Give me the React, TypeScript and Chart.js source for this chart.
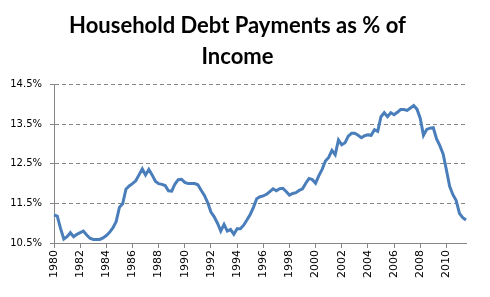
import { useEffect, useRef } from 'react';
import { Chart, registerables } from 'chart.js';

Chart.register(...registerables);

// Quarterly household debt service ratio (% of disposable income), 1980 Q1 – 2011 Q3
const startYear = 1980;
const values1980s = [
  11.21, 11.18, 10.87, 10.6, 10.66, 10.76, 10.66, 10.72,
  10.76, 10.8, 10.7, 10.62, 10.59, 10.59, 10.59, 10.63,
  10.69, 10.77, 10.88, 11.04, 11.4, 11.49, 11.86, 11.94,
  12.0, 12.07, 12.22, 12.37, 12.22, 12.36, 12.22, 12.06,
  12.0, 11.98, 11.95, 11.82, 11.81, 11.99, 12.1, 12.11,
];
const values1990s = [
  12.03, 12.0, 12.0, 12.0, 11.97, 11.83, 11.7, 11.52,
  11.28, 11.16, 11.0, 10.8, 10.97, 10.8, 10.84, 10.72,
  10.86, 10.86, 10.95, 11.08, 11.22, 11.4, 11.62, 11.67,
  11.69, 11.73, 11.8, 11.87, 11.82, 11.87, 11.88, 11.8,
  11.71, 11.75, 11.77, 11.83, 11.87, 12.01, 12.13, 12.1,
];
const values2000s = [
  12.01, 12.2, 12.36, 12.57, 12.66, 12.84, 12.73, 13.1,
  12.98, 13.03, 13.2, 13.27, 13.27, 13.22, 13.16, 13.21,
  13.23, 13.22, 13.36, 13.32, 13.69, 13.79, 13.69, 13.79,
  13.74, 13.8, 13.87, 13.87, 13.85, 13.91, 13.97, 13.88,
  13.65, 13.22, 13.37, 13.4, 13.41, 13.13, 12.96, 12.75,
];
const values2010s = [12.35, 11.93, 11.72, 11.57, 11.25, 11.14, 11.08];

const debtPayments = [...values1980s, ...values1990s, ...values2000s, ...values2010s];
const quarterLabels = debtPayments.map(
  (_, i) => `${startYear + Math.floor(i / 4)} Q${(i % 4) + 1}`
);
const yTicks = [10.5, 11.5, 12.5, 13.5, 14.5];
const titleLines = ['Household Debt Payments as % of', 'Income'];

export default function App() {
  const ref = useRef<HTMLCanvasElement>(null);

  useEffect(() => {
    document.body.style.margin = '0';
    const gray = '#868686';
    const chart = new Chart(ref.current!, {
      type: 'line',
      data: {
        labels: quarterLabels,
        datasets: [
          {
            data: debtPayments,
            borderColor: '#4a7ebb',
            borderWidth: 3,
            pointRadius: 0,
            tension: 0,
            fill: false,
          },
        ],
      },
      options: {
        animation: false,
        responsive: true,
        maintainAspectRatio: false,
        layout: { padding: { left: 9, right: 24, top: 0, bottom: 0 } },
        plugins: {
          legend: { display: false },
          tooltip: { enabled: false },
          title: {
            display: true,
            text: titleLines,
            color: '#000',
            font: { family: 'Lato', size: 22, weight: 'bold', lineHeight: 1.4 },
            padding: { top: 11, bottom: 12 },
          },
        },
        scales: {
          x: {
            type: 'category',
            offset: false,
            border: { display: true, color: gray, width: 1 },
            grid: {
              drawOnChartArea: false,
              drawTicks: true,
              tickLength: 5,
              color: (ctx: any) => (ctx.index % 8 === 0 ? gray : 'rgba(0,0,0,0)'),
            },
            ticks: {
              autoSkip: false,
              maxRotation: 90,
              minRotation: 90,
              padding: 2,
              color: '#000',
              font: { family: 'DejaVu Sans', size: 11 },
              callback: (_v: any, i: number) =>
                i % 8 === 0 ? String(startYear + i / 4) : '',
            },
            afterFit: (scale: any) => {
              scale.height = 54;
            },
          },
          y: {
            min: 10.5,
            max: 14.5,
            afterBuildTicks: (scale: any) => {
              scale.ticks = yTicks.map((v) => ({ value: v }));
            },
            border: { display: true, color: gray, width: 1, dash: [4, 3] },
            grid: {
              color: (ctx: any) => (ctx.index === 0 ? 'rgba(0,0,0,0)' : gray),
              tickColor: gray,
              tickLength: 4,
              lineWidth: 1,
            },
            ticks: {
              padding: 8,
              color: '#000',
              font: { family: 'DejaVu Sans', size: 10 },
              callback: (v: any) => `${Number(v).toFixed(1)}%`,
            },
            afterFit: (scale: any) => {
              scale.width = 45;
            },
          },
        },
      },
    });
    return () => chart.destroy();
  }, []);

  return (
    <div style={{ width: 490, height: 297, position: 'relative' }}>
      <canvas ref={ref} />
    </div>
  );
}
